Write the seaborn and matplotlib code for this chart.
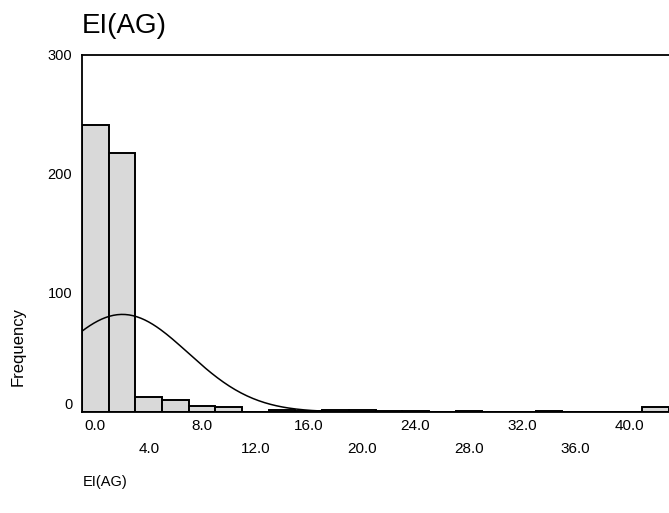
import numpy as np
import pandas as pd
import matplotlib
matplotlib.use("Agg")
import matplotlib.pyplot as plt
import seaborn as sns

# histogram bins (bin centres, width 2)
bin_centers = [0, 2, 4, 6, 8, 10, 12, 14, 16, 18, 20, 22, 24, 26, 28, 30, 32, 34, 36, 38, 40, 42]
counts = [241, 218, 13, 10, 5, 4, 0, 2, 1, 2, 2, 1, 1, 0, 1, 0, 0, 1, 0, 0, 0, 4]
major_ticks = [0, 8, 16, 24, 32, 40]
minor_ticks = [4, 12, 20, 28, 36]
y_ticks = [0, 100, 200, 300]
title = "EI(AG)"
x_label = "EI(AG)"
y_label = "Frequency"

df = pd.DataFrame({"EI": bin_centers, "n": counts})
bin_w = 2.0

# normal curve from the (binned) data
n_tot = df["n"].sum()
mean = (df["EI"] * df["n"]).sum() / n_tot
sd = np.sqrt(((df["EI"] - mean) ** 2 * df["n"]).sum() / (n_tot - 1))
xs = np.linspace(-1, 43, 300)
curve = pd.DataFrame({"x": xs,
                      "y": n_tot * bin_w * np.exp(-(xs - mean) ** 2 / (2 * sd ** 2)) / (sd * np.sqrt(2 * np.pi))})

sns.set_style("white")
plt.rcParams["font.family"] = ["Liberation Sans", "DejaVu Sans"]
plt.rcParams["text.color"] = "black"

fig = plt.figure(figsize=(6.69, 5.13), dpi=100)
ax = fig.add_axes([82 / 669, 1 - 412 / 513, 1 - 82 / 669, (412 - 55) / 513])

sns.histplot(data=df, x="EI", weights="n", binwidth=bin_w, binrange=(-1, 43), color="#d9d9d9",
             edgecolor="black", linewidth=1.4, alpha=1, ax=ax)
sns.lineplot(data=curve, x="x", y="y", color="black", linewidth=1.1, ax=ax)

ax.set_xlim(-1, 43)
ax.set_ylim(0, 300)
ax.set_yticks(y_ticks)
ax.set_yticklabels([str(v) for v in y_ticks], fontsize=10.5)
ax.get_yticklabels()[0].set_verticalalignment("bottom")
ax.set_xticks(major_ticks)
ax.set_xticklabels([f"{v:.1f}" for v in major_ticks], fontsize=11)
ax.set_xticks(minor_ticks, minor=True)
ax.set_xticklabels([f"{v:.1f}" for v in minor_ticks], minor=True, fontsize=11)
ax.tick_params(axis="x", which="both", direction="out", length=2, width=1.5,
               color="#777777", labelcolor="black")
ax.tick_params(axis="x", which="major", pad=3)
ax.tick_params(axis="x", which="minor", pad=19.5)
ax.tick_params(axis="y", direction="out", length=3, width=2, color="black",
               labelcolor="black", pad=4)

for s in ["left", "top", "bottom"]:
    ax.spines[s].set_color("black")
    ax.spines[s].set_linewidth(1.3)
ax.spines["right"].set_visible(False)

ax.set_xlabel("")
ax.set_ylabel("")
fig.text(82 / 669, 1 - 26 / 513, title, fontsize=20, ha="left", va="center")
fig.text(83 / 669, 1 - 482 / 513, x_label, fontsize=10.5, ha="left", va="center")
fig.text(18 / 669, 1 - 347 / 513, y_label, fontsize=12, rotation=90, ha="center", va="center")

fig.savefig("out.png", dpi=100)
